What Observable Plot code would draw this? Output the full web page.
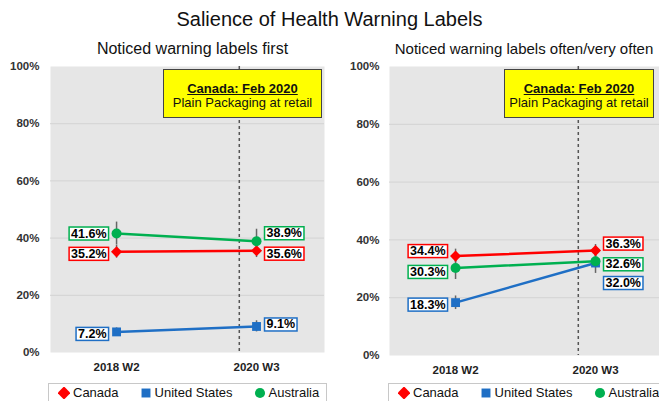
<!DOCTYPE html>
<html><head><meta charset="utf-8">
<script src="https://cdn.jsdelivr.net/npm/d3@7"></script>
<script src="https://cdn.jsdelivr.net/npm/@observablehq/plot@0.6"></script>
<style>
body{margin:0;background:#fff;}
#page{position:relative;width:659px;height:401px;overflow:hidden;font-family:"Liberation Sans",Arial,sans-serif;color:#111;}
.abs{position:absolute;}
.title{left:0;width:659px;top:8px;text-align:center;font-size:20px;line-height:23px;}
.sub{top:39px;font-size:16px;line-height:20px;text-align:center;white-space:nowrap;}
.note{top:69px;height:49px;background:#ffff00;border:1px solid #444;box-sizing:border-box;text-align:center;font-size:13px;line-height:14px;padding-top:12px;}
.note b{text-decoration:underline;}
.legend{top:383px;height:19px;border:1px solid #c8c8c8;box-sizing:border-box;display:flex;align-items:center;padding-left:9px;font-size:13px;background:#fff;}
.item{display:flex;align-items:center;margin-right:21px;white-space:nowrap;}
.item svg{margin-right:3px;}
</style></head>
<body><div id="page"></div>
<script>
// ---------- data ----------
const countries = ["Canada", "United States", "Australia"];
const colors = ["#ff0000", "#1f6fc5", "#00b050"];
const symbols = ["diamond2", "square", "circle"];
const waves = ["2018 W2", "2020 W3"];
const waveDates = [new Date(2018, 4, 1), new Date(2020, 4, 1)];
const policyDate = new Date(2020, 1, 1);
const yTicks = [0, 20, 40, 60, 80, 100];

// Panel 1: Noticed warning labels first (%), by country, per wave
const firstCanada = [35.2, 35.6];
const firstUS = [7.2, 9.1];
const firstAustralia = [41.6, 38.9];
const firstCanadaCI = [[33.0, 37.5], [33.2, 38.0]];
const firstUSCI = [[6.0, 8.6], [7.2, 11.1]];
const firstAustraliaCI = [[37.6, 45.6], [34.8, 43.1]];

// Panel 2: Noticed warning labels often/very often (%)
const oftenCanada = [34.4, 36.3];
const oftenUS = [18.3, 32.0];
const oftenAustralia = [30.3, 32.6];
const oftenCanadaCI = [[32.0, 36.8], [34.2, 38.4]];
const oftenUSCI = [[15.9, 20.6], [28.4, 35.6]];
const oftenAustraliaCI = [[26.3, 34.3], [30.4, 34.8]];

// ---------- layout (styling only) ----------
const xDomain = [new Date(2017, 4, 21), new Date(2021, 3, 21)];
const labelNudge1 = [[2, 3], [2, -2], [0, -8]];   // px, per country per wave
const labelNudge2 = [[-5, -7], [2, 20], [4, 3]];

const page = document.getElementById("page");
function div(cls, style, html) {
  const d = document.createElement("div");
  d.className = "abs " + cls;
  Object.assign(d.style, style);
  d.innerHTML = html;
  page.appendChild(d);
  return d;
}

div("title", {}, "Salience of Health Warning Labels");
div("sub", {left: "40px", width: "305px"}, "Noticed warning labels first");
div("sub", {left: "374px", width: "300px", fontSize: "15px"}, "Noticed warning labels often/very often");

function buildRows(vals, cis, nudges) {
  const rows = [];
  countries.forEach((c, i) => {
    waves.forEach((w, j) => {
      rows.push({country: c, ci: i, wave: w, wi: j, date: waveDates[j],
        value: vals[i][j], lo: cis[i][j][0], hi: cis[i][j][1], nudge: nudges[i][j]});
    });
  });
  return rows;
}

function panel(rows, opt) {
  const labelMarks = rows.map(r => Plot.text([r], {
    x: "date", y: "value",
    text: d => d.value.toFixed(1) + "%",
    textAnchor: r.wi === 0 ? "end" : "start",
    dx: r.wi === 0 ? -10 : 10,
    dy: r.nudge,
    fill: "#000", fontWeight: "bold", fontSize: 12.5
  }));
  const plot = Plot.plot({
    width: opt.width, height: opt.height,
    marginLeft: opt.marginLeft, marginRight: opt.marginRight,
    marginTop: opt.marginTop, marginBottom: opt.marginBottom,
    style: {fontFamily: '"Liberation Sans", Arial, sans-serif', background: "transparent", overflow: "visible", maxWidth: "none"},
    x: {type: "time", domain: xDomain},
    y: {domain: [0, 100]},
    color: {domain: countries, range: colors},
    symbol: {domain: countries, range: symbols},
    marks: [
      Plot.frame({fill: "#e6e6e6", stroke: null}),
      Plot.ruleY(yTicks.filter(t => t > 0 && t < 100), {stroke: "#d3d3d3", strokeWidth: 1}),
      Plot.ruleX([policyDate], {stroke: "#555", strokeDasharray: "3,3", strokeWidth: 1.5}),
      Plot.axisX({ticks: waveDates, tickFormat: d => waves[waveDates.findIndex(w => +w === +d)],
        tickSize: 0, tickPadding: 10, fontSize: 11.5, fontWeight: "bold", fill: "#222", label: null}),
      Plot.axisY({ticks: yTicks, tickFormat: d => d + "%", tickSize: 0, tickPadding: opt.yPad,
        fontSize: 11.5, fontWeight: "bold", fill: "#333", label: null}),
      Plot.line(rows, {x: "date", y: "value", z: "country", stroke: "country", strokeWidth: 2.5}),
      Plot.ruleX(rows, {x: "date", y1: "lo", y2: "hi", stroke: "#666", strokeWidth: 1.5}),
      Plot.dot(rows, {x: "date", y: "value", symbol: "country", fill: "country", r: 5}),
      ...labelMarks
    ]
  });
  const holder = div("", {left: opt.left + "px", top: opt.top + "px", width: opt.width + "px", height: opt.height + "px"}, "");
  holder.appendChild(plot);
  // white boxes with coloured borders behind the value labels (one text mark per row, in order)
  const groups = plot.querySelectorAll('g[aria-label="text"]');
  groups.forEach((g, k) => {
    const ci = rows[k].ci;
    g.querySelectorAll("text").forEach(t => {
      const b = t.getBBox();
      const r = document.createElementNS("http://www.w3.org/2000/svg", "rect");
      r.setAttribute("x", b.x - 2);
      r.setAttribute("y", b.y + 0.5);
      r.setAttribute("width", b.width + 4);
      r.setAttribute("height", b.height - 1);
      r.setAttribute("fill", "#fff");
      r.setAttribute("stroke", colors[ci]);
      r.setAttribute("stroke-width", 1.5);
      if (t.getAttribute("transform")) r.setAttribute("transform", t.getAttribute("transform"));
      t.parentNode.insertBefore(r, t);
    });
  });
}

panel(buildRows([firstCanada, firstUS, firstAustralia], [firstCanadaCI, firstUSCI, firstAustraliaCI], labelNudge1),
  {left: 0, top: 60, width: 330, height: 320, marginLeft: 50, marginRight: 6, marginTop: 6, marginBottom: 28, yPad: 11});
panel(buildRows([oftenCanada, oftenUS, oftenAustralia], [oftenCanadaCI, oftenUSCI, oftenAustraliaCI], labelNudge2),
  {left: 339, top: 60, width: 330, height: 323, marginLeft: 50, marginRight: 6, marginTop: 6, marginBottom: 28, yPad: 10});

// annotation boxes
const noteHtml = "<b>Canada: Feb 2020</b><br>Plain Packaging at retail";
div("note", {left: "163px", width: "159px"}, noteHtml);
div("note", {left: "504px", width: "150px"}, noteHtml);

// legends
function legend(left, width) {
  const lg = div("legend", {left: left + "px", width: width + "px"}, "");
  countries.forEach((c, i) => {
    const it = document.createElement("div");
    it.className = "item";
    const type = {diamond2: d3.symbolDiamond2, square: d3.symbolSquare, circle: d3.symbolCircle}[symbols[i]];
    const path = d3.symbol(type, symbols[i] === "diamond2" ? 110 : 80)();
    it.innerHTML = `<svg width="12" height="12" viewBox="-6 -6 12 12"><path d="${path}" fill="${colors[i]}"/></svg><span>${c}</span>`;
    lg.appendChild(it);
  });
}
legend(48, 279);
legend(388, 280);
</script></body></html>
